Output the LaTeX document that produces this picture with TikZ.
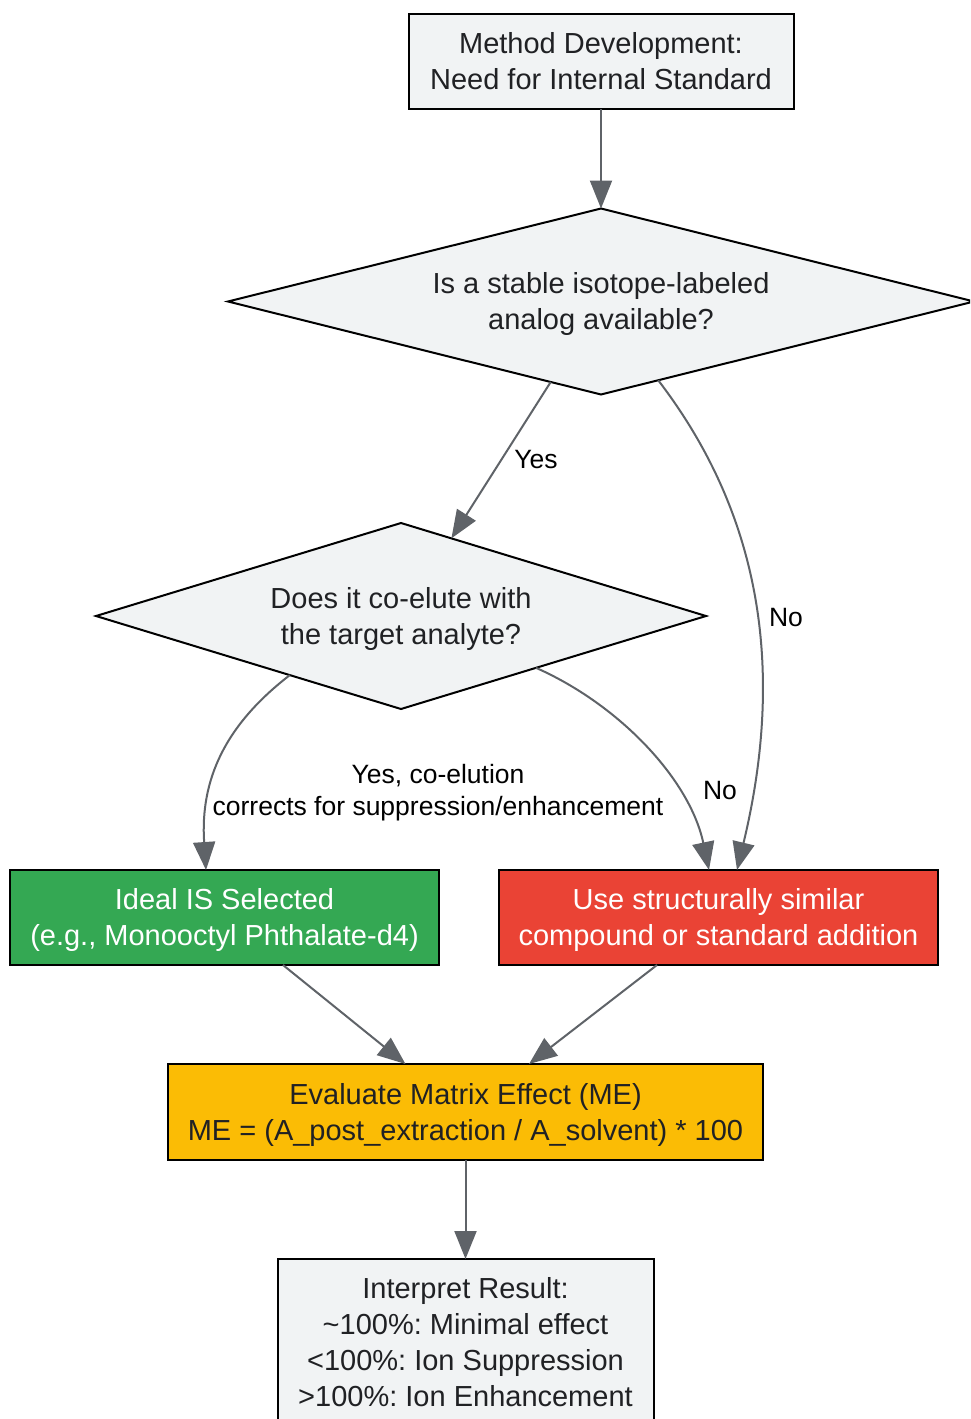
\documentclass[tikz,border=0pt]{standalone}
\usepackage{fontspec}
\setmainfont{Liberation Sans}
\usetikzlibrary{shapes.geometric,arrows.meta}
\frenchspacing
\definecolor{boxgray}{HTML}{F1F3F4}
\definecolor{gok}{HTML}{34A853}
\definecolor{gbad}{HTML}{EA4335}
\definecolor{gyel}{HTML}{FBBC05}
\definecolor{txt}{HTML}{202124}
\definecolor{edgec}{HTML}{5F6368}
\newcommand{\tstrut}{\rule{0pt}{28pt}}
\newcommand{\lstrut}{\rule{0pt}{25pt}}
\tikzset{
  bigstrut/.style={execute at end node={\rule[-8pt]{0pt}{8pt}}},
  procbox/.style={draw=black, line width=2pt, rectangle, inner sep=0pt, outer sep=0pt,
    align=center, text=txt, font=\fontsize{29}{36}\selectfont, bigstrut},
  decbox/.style={draw=black, line width=2pt, diamond, inner sep=0pt, outer sep=0pt,
    fill=boxgray, align=center, text=txt, font=\fontsize{29}{36}\selectfont, bigstrut},
  conn/.style={draw=edgec, line width=2pt, -{Triangle[length=28pt,width=22pt]}},
  lbl/.style={align=center, text=black, font=\fontsize{26.5}{32}\selectfont, inner sep=0pt,
    execute at end node={\rule[-7pt]{0pt}{7pt}}}
}
\begin{document}
\begin{tikzpicture}[x=1pt,y=-1pt]
\frenchspacing
\useasboundingbox (0,0) rectangle (970,1419);
\clip (0,0) rectangle (970,1419);
\node[procbox, fill=boxgray, minimum width=385, minimum height=95] (b1) at (601,61.5)
  {\tstrut Method Development:\\Need for Internal Standard};
\node[decbox, aspect=4, minimum width=746, minimum height=186] (d1) at (601,301.5)
  {\tstrut Is a stable isotope-labeled\\analog available?};
\node[decbox, aspect=3.28, minimum width=610, minimum height=186] (d2) at (401,616)
  {\tstrut Does it co-elute with\\the target analyte?};
\node[procbox, fill=gok, text=white, minimum width=429, minimum height=95] (ok) at (224.5,917.5)
  {\tstrut Ideal IS Selected\\(e.g., Monooctyl Phthalate-d4)};
\node[procbox, fill=gbad, text=white, minimum width=439, minimum height=95] (alt) at (718.5,917.5)
  {\tstrut Use structurally similar\\compound or standard addition};
\node[procbox, fill=gyel, minimum width=595, minimum height=96] (me) at (465.5,1112)
  {\tstrut Evaluate Matrix Effect (ME)\\ME = (A\_post\_extraction / A\_solvent) * 100};
\node[procbox, fill=boxgray, minimum width=376, minimum height=166] (res) at (465.5,1342)
  {\tstrut Interpret Result:\\\textasciitilde100\%: Minimal effect\\<100\%: Ion Suppression\\>100\%: Ion Enhancement};

\draw[conn] (b1.south) -- (d1.north);
\draw[conn] (d1.238) -- (d2.57);
\node[lbl] (lyes) at (536,459) {\lstrut Yes};
\draw[conn] (d1.-54) .. controls (750,500) and (790,650) .. ([xshift=18.5pt]alt.north);
\node[lbl] (lno1) at (786,617) {\lstrut No};
\draw[conn] (d2.-152) .. controls (225,725) and (200,780) .. ([xshift=-18.5pt]ok.north);
\node[lbl] (lyes2) at (438,790) {\lstrut Yes, co-elution\\corrects for suppression/enhancement};
\draw[conn] (d2.-21) .. controls (620,705) and (690,780) .. ([xshift=-9.5pt]alt.north);
\node[lbl] (lno2) at (720,790) {\lstrut No};
\draw[conn] ([xshift=58.5pt]ok.south) -- ([xshift=-60pt]me.north);
\draw[conn] ([xshift=-61.5pt]alt.south) -- ([xshift=63.5pt]me.north);
\draw[conn] (me.south) -- (res.north);
\end{tikzpicture}
\end{document}
